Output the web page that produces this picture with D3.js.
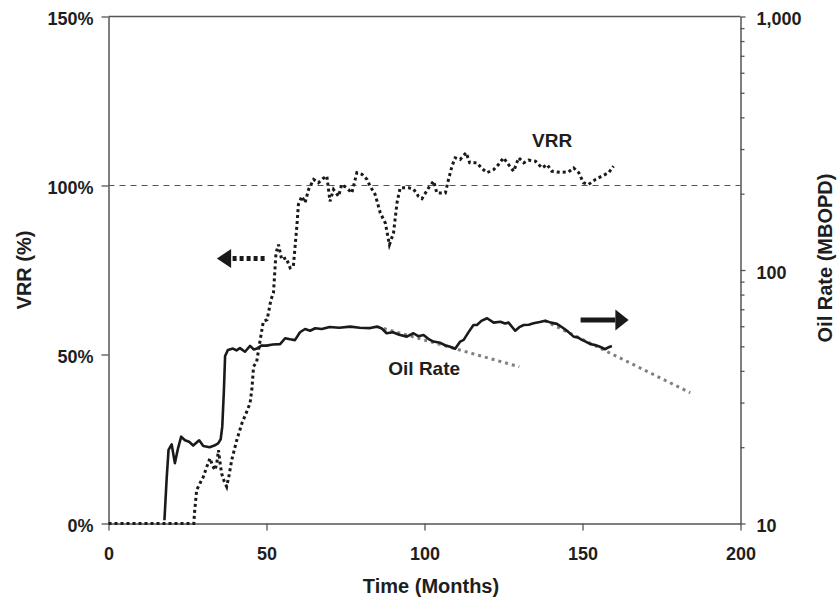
<!DOCTYPE html>
<html>
<head>
<meta charset="utf-8">
<script src="https://cdn.jsdelivr.net/npm/d3@7/dist/d3.min.js"></script>
<style>
  html, body { margin: 0; padding: 0; background: #fff; }
  svg { display: block; font-family: "Liberation Sans", Arial, Helvetica, sans-serif; }
</style>
</head>
<body>
<svg id="chart" width="837" height="601"></svg>
<script>
// ---------- DATA ----------
const xTicks = [0, 50, 100, 150, 200];
const xTickLabels = ["0", "50", "100", "150", "200"];
const vrrTicks = [0, 50, 100, 150];
const vrrTickLabels = ["0%", "50%", "100%", "150%"];
const rateTicks = [10, 100, 1000];
const rateTickLabels = ["10", "100", "1,000"];
const rateMinorTicks = [20, 30, 40, 50, 60, 70, 80, 90, 200, 300, 400, 500, 600, 700, 800, 900];

const oilMonths = [17.7, 18.4, 19, 20, 21, 22, 23, 24.2, 25.5, 26.8, 28.7, 30, 32, 33.5, 34.7, 35.5, 36, 36.5, 36.9, 37.8, 39.4, 40.5, 41.6, 43.2, 44.8, 46, 47, 48.5, 50, 52, 54.3, 55.9, 57.5, 59, 60.6, 62.2, 63.8, 65.4, 67.5, 70, 73, 76.5, 79.5, 82.8, 85, 86.5, 88, 90, 92, 94.4, 96.5, 98, 99.7, 101.2, 102.8, 105, 106.5, 108.1, 109.7, 111.3, 112.4, 114, 115.5, 116.6, 118, 119.8, 121.9, 124, 125.5, 126.6, 128.7, 130, 131.4, 133, 134.5, 136.5, 138.2, 140, 141.9, 144, 145.5, 147.2, 148.5, 149.8, 151, 152.5, 154, 155.5, 157.2, 158.3, 159.3];
const oilRate = [10.3, 15, 19.5, 20.5, 17.3, 19.8, 22.0, 21.3, 21.0, 20.3, 21.3, 20.2, 20.0, 20.3, 20.7, 21.5, 24.1, 33, 45.8, 48.4, 49, 48.2, 49.2, 47.6, 50.2, 48.6, 49, 50.4, 50.3, 50.8, 51, 53.8, 53.3, 52.9, 56.8, 58.5, 57.6, 58.9, 58.5, 59.6, 59.2, 59.8, 59.2, 59, 59.8, 58.8, 56.3, 56.8, 55.5, 54.6, 56.3, 54.8, 55.4, 53.5, 52.2, 51.6, 50.5, 49.8, 48.9, 52.2, 53, 57, 60.7, 60.7, 63, 64.5, 62, 62.5, 61.5, 62, 57.6, 59.5, 60.7, 60.8, 61.6, 62.3, 63.1, 62, 61.3, 58.9, 57, 54.6, 54.2, 53, 52.2, 51, 50.6, 49.8, 48.7, 49.6, 50.1];

const vrrMonths = [0, 27, 27.2, 27.9, 29, 30, 31, 32.1, 33, 33.7, 34.3, 34.8, 35.3, 35.8, 36.6, 37.4, 38.2, 39, 40.6, 42.2, 43.5, 44.8, 45.4, 45.9, 46.9, 48, 49, 50.2, 51.4, 52.2, 53, 53.8, 54.8, 56.2, 57.5, 58.5, 59.6, 60.1, 61.2, 62.2, 63.3, 64.9, 66.4, 67.8, 69.1, 70.1, 71.2, 72.8, 73.8, 75.4, 77, 78.6, 80.2, 81.8, 82.8, 84.4, 86, 87.6, 88.9, 90.2, 91.3, 92.3, 94.9, 96.5, 98.1, 99.2, 101.3, 102.9, 103.9, 106.6, 107.6, 108.7, 109.7, 111.3, 113.2, 114.3, 116.6, 118.2, 119.8, 121.9, 123.4, 125, 126.6, 128.2, 129.8, 131.4, 132.9, 135.1, 137.2, 138.8, 140.3, 143, 145.6, 147.2, 148.8, 150.3, 151.9, 154.1, 156.2, 158.3, 159.8];
const vrrValues = [0, 0, 3, 9.9, 12, 13.8, 16.5, 19.3, 17, 15.8, 18, 21.7, 18, 14.8, 12.5, 10.9, 14.5, 18.8, 24.7, 29.6, 32.5, 35.6, 40, 46.4, 47.9, 54.3, 59.8, 60.3, 66.2, 68.2, 80, 82.5, 78.1, 78.6, 75.6, 76.1, 87.9, 94.4, 96.8, 94.9, 98.8, 101.8, 100.8, 102, 102.8, 95.3, 98.8, 96.8, 100.3, 99.3, 97.8, 103.8, 103.3, 101.8, 99.8, 97.3, 91.9, 88.9, 82.5, 86, 94.9, 99.3, 99.3, 99, 96.8, 96.1, 99.3, 101.3, 97.8, 97.8, 101.8, 105.7, 108.2, 107.7, 109.7, 106.7, 106.7, 105, 103.8, 104.7, 106.2, 108.2, 106.2, 104.2, 108.2, 106.7, 107.5, 107.2, 105.2, 106.2, 104.2, 103.9, 104, 105.2, 103.8, 100.8, 100.3, 101.8, 102.8, 103.8, 105.7];

const trend1Months = [85, 130];
const trend1Rate = [59.8, 41.5];
const trend2Months = [138, 184.1];
const trend2Rate = [63.1, 32.8];

const referenceVRR = 100;

// annotations (data coordinates)
const vrrArrowMonths = [49.4, 38.8, 34.3];   // shaft start, head base, tip
const vrrArrowValue = 78.4;
const rateArrowMonths = [149.4, 160.4, 164.6];
const rateArrowValue = 63.5;

const labelVRR = { text: "VRR", month: 140.4, value: 111.5 };
const labelOil = { text: "Oil Rate", month: 99.9, rate: 38.6 };

// ---------- LAYOUT ----------
const svg = d3.select("#chart");
const L = 108.5, R = 740.5, T = 16.5, B = 523.5;
const textColor = "#1e1e1e";
const axisColor = "#555";

const x = d3.scaleLinear().domain([0, 200]).range([L, R]);
const yL = d3.scaleLinear().domain([0, 150]).range([B, T]);
const yR = d3.scaleLog().domain([10, 1000]).range([B, T]);

// reference dashed line at 100%
svg.append("line")
  .attr("x1", L).attr("x2", R)
  .attr("y1", yL(referenceVRR)).attr("y2", yL(referenceVRR))
  .attr("stroke", "#555").attr("stroke-width", 1.2)
  .attr("stroke-dasharray", "6,5");

// top frame line
svg.append("line").attr("x1", L).attr("x2", R).attr("y1", T).attr("y2", T)
  .attr("stroke", axisColor).attr("stroke-width", 1.5);

// axes
function styleAxis(g) {
  g.select(".domain").attr("stroke", axisColor).attr("stroke-width", 1.5);
  g.selectAll(".tick line").attr("stroke", axisColor).attr("stroke-width", 1.3);
  g.selectAll(".tick text").attr("fill", textColor)
    .attr("font-size", 18).attr("font-weight", "bold");
}

const xAxis = d3.axisBottom(x).tickValues(xTicks)
  .tickFormat((d, i) => xTickLabels[i]).tickSize(7).tickPadding(16.5).tickSizeOuter(0);
svg.append("g").attr("transform", `translate(0,${B})`).call(xAxis).call(styleAxis);

const yLAxis = d3.axisLeft(yL).tickValues(vrrTicks)
  .tickFormat((d, i) => vrrTickLabels[i]).tickSize(7).tickPadding(8).tickSizeOuter(0);
svg.append("g").attr("transform", `translate(${L},0)`).call(yLAxis).call(styleAxis)
  .selectAll(".tick text").attr("dy", "0.45em");

const yRAxis = d3.axisRight(yR).tickValues(rateTicks)
  .tickFormat((d, i) => rateTickLabels[i]).tickSize(5).tickPadding(11).tickSizeOuter(0);
svg.append("g").attr("transform", `translate(${R},0)`).call(yRAxis).call(styleAxis)
  .selectAll(".tick text").attr("dy", "0.45em");

const yRMinor = d3.axisRight(yR).tickValues(rateMinorTicks).tickFormat("").tickSize(4).tickSizeOuter(0);
svg.append("g").attr("transform", `translate(${R},0)`).call(yRMinor)
  .call(g => g.select(".domain").remove())
  .selectAll(".tick line").attr("stroke", axisColor).attr("stroke-width", 1.3);

// axis titles
svg.append("text").attr("x", (L + R) / 2 + 6.5).attr("y", 593)
  .attr("text-anchor", "middle").attr("font-size", 20).attr("font-weight", "bold")
  .attr("fill", textColor).text("Time (Months)");
svg.append("text").attr("transform", "translate(24,270) rotate(-90)")
  .attr("dy", "0.35em").attr("text-anchor", "middle").attr("font-size", 20)
  .attr("font-weight", "bold").attr("fill", textColor).text("VRR (%)");
svg.append("text").attr("transform", "translate(825,258) rotate(-90)")
  .attr("dy", "0.35em").attr("text-anchor", "middle").attr("font-size", 20)
  .attr("font-weight", "bold").attr("fill", textColor).text("Oil Rate (MBOPD)");

// decline trend lines
const trendLine = d3.line().x(d => x(d[0])).y(d => yR(d[1]));
[[trend1Months, trend1Rate], [trend2Months, trend2Rate]].forEach(([m, r]) => {
  svg.append("path").datum(d3.zip(m, r)).attr("d", trendLine)
    .attr("fill", "none").attr("stroke", "#808080").attr("stroke-width", 3)
    .attr("stroke-dasharray", "3,4");
});

// oil rate line
const oilLine = d3.line().x(d => x(d[0])).y(d => yR(d[1]));
svg.append("path").datum(d3.zip(oilMonths, oilRate)).attr("d", oilLine)
  .attr("fill", "none").attr("stroke", "#1a1a1a").attr("stroke-width", 2.6)
  .attr("stroke-linejoin", "round");

// VRR line
const vrrLine = d3.line().x(d => x(d[0])).y(d => yL(d[1]));
svg.append("path").datum(d3.zip(vrrMonths, vrrValues)).attr("d", vrrLine)
  .attr("fill", "none").attr("stroke", "#1a1a1a").attr("stroke-width", 3)
  .attr("stroke-dasharray", "3,3");

// arrows
(function () {
  const yA = yL(vrrArrowValue);
  svg.append("line").attr("x1", x(vrrArrowMonths[0])).attr("x2", x(vrrArrowMonths[1]))
    .attr("y1", yA).attr("y2", yA).attr("stroke", "#1a1a1a").attr("stroke-width", 5)
    .attr("stroke-dasharray", "4,3");
  const bx = x(vrrArrowMonths[1]), tx = x(vrrArrowMonths[2]);
  svg.append("path").attr("d", `M${tx},${yA} L${bx},${yA - 9.5} L${bx},${yA + 9.5} Z`).attr("fill", "#1a1a1a");
})();
(function () {
  const yA = yR(rateArrowValue);
  svg.append("line").attr("x1", x(rateArrowMonths[0])).attr("x2", x(rateArrowMonths[1]))
    .attr("y1", yA).attr("y2", yA).attr("stroke", "#1a1a1a").attr("stroke-width", 5);
  const bx = x(rateArrowMonths[1]), tx = x(rateArrowMonths[2]);
  svg.append("path").attr("d", `M${tx},${yA} L${bx},${yA - 10.5} L${bx},${yA + 10.5} Z`).attr("fill", "#1a1a1a");
})();

// series labels
svg.append("text").attr("x", x(labelVRR.month)).attr("y", yL(labelVRR.value))
  .attr("text-anchor", "middle").attr("font-size", 19).attr("font-weight", "bold")
  .attr("fill", textColor).text(labelVRR.text);
svg.append("text").attr("x", x(labelOil.month)).attr("y", yR(labelOil.rate))
  .attr("text-anchor", "middle").attr("font-size", 19).attr("font-weight", "bold")
  .attr("fill", textColor).text(labelOil.text);
</script>
</body>
</html>
